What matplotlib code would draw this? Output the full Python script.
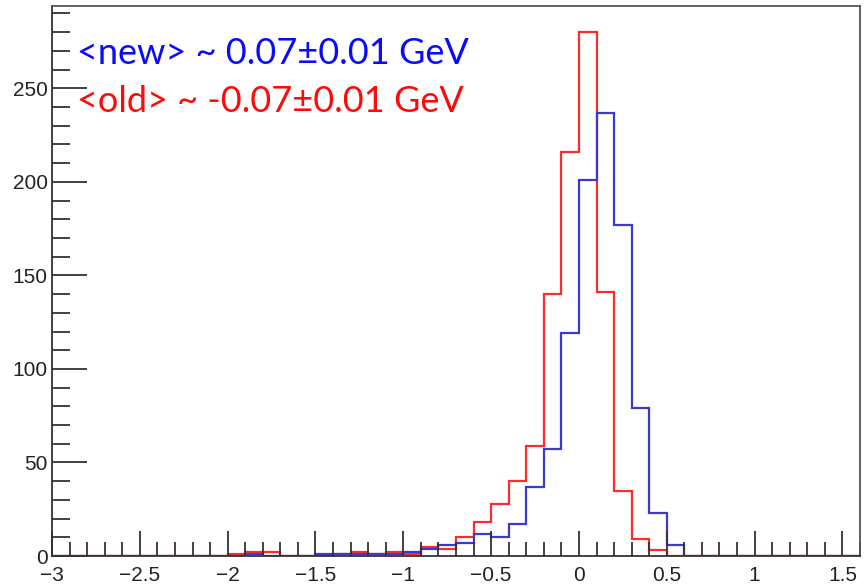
import numpy as np
import matplotlib
matplotlib.use("Agg")
import matplotlib.pyplot as plt
from matplotlib.ticker import MultipleLocator

# histogram binning: 46 bins of 0.1 GeV from -3 to 1.6
bin_lo = -3.0
bin_width = 0.1

# counts per bin, old reconstruction
old_counts = [0, 0, 0, 0, 0, 0, 0, 0, 0, 0,
              1, 2, 2, 0, 0, 0, 1, 2, 1, 2,
              1, 5, 4, 10, 18, 28, 40, 59, 140, 216,
              280, 141, 35, 9, 3, 0,
              0, 0, 0, 0, 0, 0, 0, 0, 0, 0]

# counts per bin, new reconstruction
new_counts = [0, 0, 0, 0, 0, 0, 0, 0, 0, 0,
              0, 1, 0, 0, 0, 1, 1, 1, 1, 1,
              2, 4, 6, 7, 12, 10, 17, 37, 57, 119,
              201, 237, 177, 79, 23, 6,
              0, 0, 0, 0, 0, 0, 0, 0, 0, 0]

label_new = "<new> ~ 0.07\u00b10.01 GeV"
label_old = "<old> ~ -0.07\u00b10.01 GeV"

edges = np.round(bin_lo + bin_width * np.arange(len(old_counts) + 1), 2)

plt.rcParams['font.family'] = ['Liberation Sans', 'DejaVu Sans']

fig = plt.figure(figsize=(8.65, 5.87), dpi=100)
ax = fig.add_axes([0.0601, 0.0528, 0.9341, 0.937])

ax.stairs(old_counts, edges, color='#ff2a2a', lw=1.6, baseline=None)
ax.stairs(new_counts, edges, color='#3a3ad0', lw=1.6, baseline=None)

ax.set_xlim(edges[0], edges[-1])
ax.set_ylim(0, 294)

# ROOT-like axes: inward ticks on left and bottom only
ax.xaxis.set_major_locator(MultipleLocator(0.5))
ax.xaxis.set_minor_locator(MultipleLocator(0.1))
ax.yaxis.set_major_locator(MultipleLocator(50))
ax.yaxis.set_minor_locator(MultipleLocator(10))
ax.xaxis.set_major_formatter(plt.FuncFormatter(lambda v, p: f"{v:g}".replace('-', '\u2212')))
ax.tick_params(axis='x', which='major', direction='in', length=18, width=1.3,
               color='#333333', labelsize=15, pad=7)
ax.tick_params(axis='x', which='minor', direction='in', length=10, width=1.3, color='#333333')
ax.tick_params(axis='y', which='major', direction='in', length=25, width=1.3,
               color='#333333', labelsize=15, pad=3)
ax.tick_params(axis='y', which='minor', direction='in', length=13, width=1.3, color='#333333')
ax.tick_params(top=False, right=False, which='both')
for lab in ax.get_yticklabels():
    lab.set_color('#222222')
for lab in ax.get_xticklabels():
    lab.set_color('#222222')

for side in ['left', 'bottom']:
    ax.spines[side].set_color('#333333')
    ax.spines[side].set_linewidth(1.3)
for side in ['top', 'right']:
    ax.spines[side].set_color('#555555')
    ax.spines[side].set_linewidth(1.3)

ax.text(0.031, 0.895, label_new, transform=ax.transAxes, color='#0a0aff',
        fontsize=26, family=['Lato', 'DejaVu Sans'], va='baseline')
ax.text(0.031, 0.808, label_old, transform=ax.transAxes, color='#ff0a0a',
        fontsize=26, family=['Lato', 'DejaVu Sans'], va='baseline')

fig.savefig("out.png", dpi=100)
